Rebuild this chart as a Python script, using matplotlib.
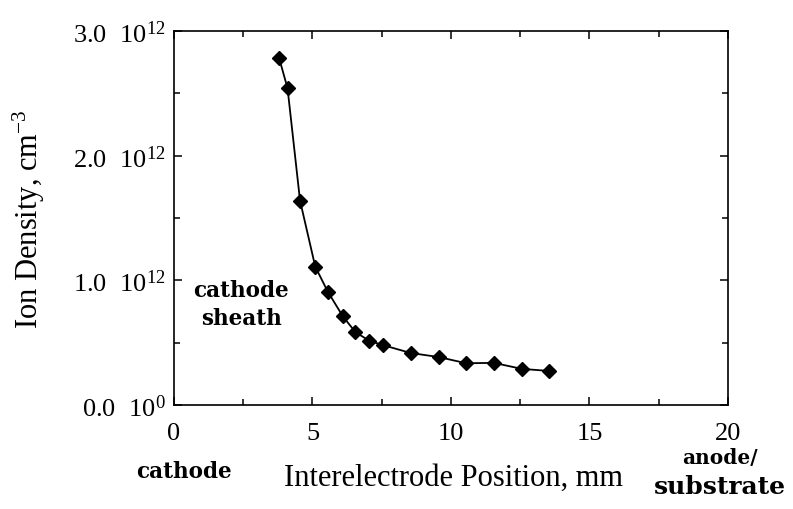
"""
Ion density across the interelectrode gap
"""
import numpy as np
import matplotlib
matplotlib.use('Agg')
import matplotlib.pyplot as plt
from matplotlib.ticker import MultipleLocator

# position (mm) and ion density (cm^-3)
position = [3.8, 4.1, 4.55, 5.1, 5.55, 6.1, 6.55, 7.05, 7.55, 8.55,
            9.55, 10.55, 11.55, 12.55, 13.55]
density = [2.78e12, 2.54e12, 1.64e12, 1.11e12, 0.91e12, 0.71e12, 0.585e12,
           0.515e12, 0.48e12, 0.417e12, 0.385e12, 0.335e12, 0.338e12,
           0.29e12, 0.273e12]

xticks = [0, 5, 10, 15, 20]
yticks = [0, 1e12, 2e12, 3e12]
ytick_labels = [r"0.0 $\;\mathregular{10^{0}}$", r"1.0 $\;\mathregular{10^{12}}$",
                r"2.0 $\;\mathregular{10^{12}}$", r"3.0 $\;\mathregular{10^{12}}$"]

plt.rcParams['font.family'] = ['Liberation Serif', 'DejaVu Serif']
plt.rcParams['mathtext.default'] = 'regular'

fig = plt.figure(figsize=(7.93, 5.10), dpi=100)
ax = fig.add_axes([0.2194, 0.2039, 0.6986, 0.7334])

ax.plot(position, density, c='black', lw=1.3, marker='D', ms=7.5,
        mfc='black', mec='black')

ax.set_xlim(0, 20)
ax.set_ylim(0, 3e12)
ax.set_xticks(xticks)
ax.set_yticks(yticks, ytick_labels)
ax.xaxis.set_minor_locator(MultipleLocator(2.5))
ax.yaxis.set_minor_locator(MultipleLocator(0.5e12))
ax.tick_params(which='both', direction='in', top=True, right=True,
               width=1.1, labelsize=19)
ax.tick_params(which='major', length=6)
ax.tick_params(which='minor', length=4)
ax.tick_params(axis='x', pad=12)
ax.tick_params(axis='y', pad=6)
for s in ax.spines.values():
    s.set_linewidth(1.2)

ax.set_xlabel("Interelectrode Position, mm", fontsize=22)
ax.xaxis.set_label_coords(0.505, -0.155)
ax.set_ylabel("Ion Density, cm$^{-3}$", fontsize=22)
ax.yaxis.set_label_coords(-0.23, 0.5)

bold = dict(family='DejaVu Serif', fontweight='bold', ha='center',
            va='center')
ax.text(2.42, 0.81e12, "cathode\nsheath", fontsize=15.5, linespacing=1.3,
        **bold)
ax.text(0.018, -0.176, "cathode", fontsize=15.5, transform=ax.transAxes,
        **bold)
ax.text(0.986, -0.139, "anode/", fontsize=14.5, transform=ax.transAxes, **bold)
ax.text(0.986, -0.217, "substrate", fontsize=18, transform=ax.transAxes,
        **bold)

fig.savefig('out.png', dpi=100)
